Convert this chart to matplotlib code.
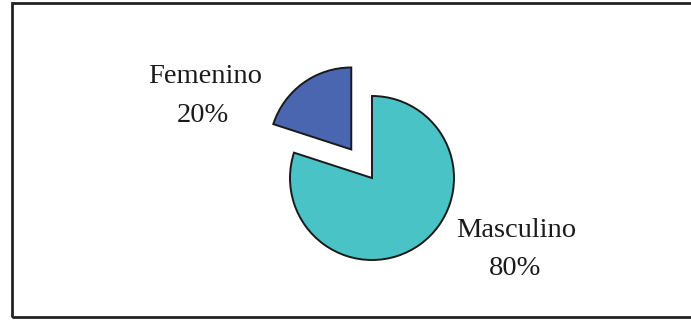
import matplotlib.pyplot as plt
from matplotlib.patches import Rectangle

# Distribucion por sexo
categorias = ['Femenino', 'Masculino']
porcentajes = [20, 80]
colores = ['#4A66B0', '#4AC3C6']
separacion = [0.43, 0]  # fraccion del radio

fig = plt.figure(figsize=(6.91, 3.20), dpi=100)
ax = fig.add_axes([0, 0, 1, 1])

# el pie va en coordenadas de pixel (y hacia arriba)
radio = 82
ax.pie(porcentajes, colors=colores, explode=[s * radio for s in separacion],
       startangle=90, center=(372, 142), radius=radio, frame=True,
       wedgeprops=dict(edgecolor='#1a1a1a', linewidth=1.4))
ax.set_xlim(0, 691)
ax.set_ylim(0, 320)
ax.set_aspect('equal')
ax.axis('off')

# marco exterior
ax.add_patch(Rectangle((12, 3), 700, 314, fill=False, edgecolor='#222222',
                       linewidth=2, clip_on=False))

fuente = dict(family='Liberation Serif', fontsize=20.5, color='#1a1a1a',
              ha='center', va='baseline')
posiciones = {'Femenino': (205, 320 - 83, 203, 320 - 122),
              'Masculino': (516, 320 - 237, 515, 320 - 275)}
for nombre, valor in zip(categorias, porcentajes):
    x1, y1, x2, y2 = posiciones[nombre]
    ax.text(x1, y1, nombre, **fuente)
    ax.text(x2, y2, f'{valor}%', **fuente)

fig.savefig('out.png', dpi=100)
